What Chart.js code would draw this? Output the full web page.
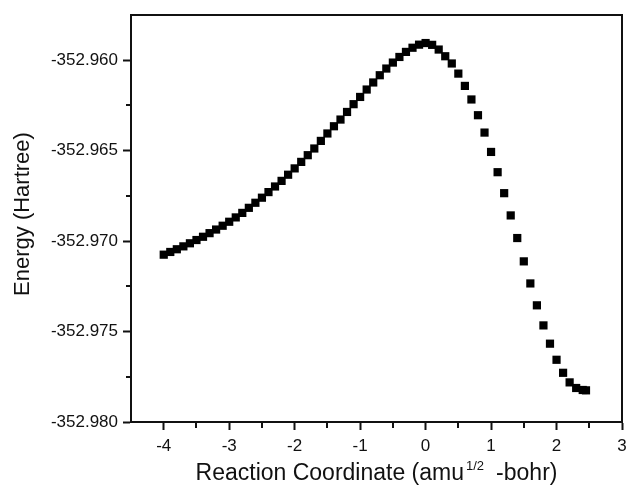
<!DOCTYPE html>
<html>
<head>
<meta charset="utf-8">
<script src="https://cdn.jsdelivr.net/npm/chart.js@4.4.1/dist/chart.umd.min.js"></script>
<style>
  html, body { margin: 0; padding: 0; background: #fff; }
  #wrap { width: 629px; height: 488px; }
</style>
</head>
<body>
<div id="wrap"><canvas id="c" width="629" height="488"></canvas></div>
<script>
// ---- data ----
const reactionCoord = [
  -4.0, -3.9, -3.8, -3.7, -3.6, -3.5, -3.4, -3.3, -3.2, -3.1,
  -3.0, -2.9, -2.8, -2.7, -2.6, -2.5, -2.4, -2.3, -2.2, -2.1,
  -2.0, -1.9, -1.8, -1.7, -1.6, -1.5, -1.4, -1.3, -1.2, -1.1,
  -1.0, -0.9, -0.8, -0.7, -0.6, -0.5, -0.4, -0.3, -0.2, -0.1,
   0.0,  0.1,  0.2,  0.3,  0.4,  0.5,  0.6,  0.7,  0.8,  0.9,
   1.0,  1.1,  1.2,  1.3,  1.4,  1.5,  1.6,  1.7,  1.8,  1.9,
   2.0,  2.1,  2.2,  2.3,  2.4,  2.45
];
const energyHartree = [
  -352.97075, -352.97060, -352.97045, -352.97029, -352.97012, -352.96994, -352.96976, -352.96956, -352.96936, -352.96915,
  -352.96893, -352.96869, -352.96844, -352.96816, -352.96788, -352.96760, -352.96729, -352.96698, -352.96667, -352.96633,
  -352.96598, -352.96562, -352.96525, -352.96488, -352.96446, -352.96405, -352.96365, -352.96328, -352.96286, -352.96243,
  -352.96203, -352.96162, -352.96123, -352.96083, -352.96046, -352.96013, -352.95982, -352.95954, -352.95931, -352.95914,
  -352.95905, -352.95915, -352.95941, -352.95978, -352.96018, -352.96074, -352.96142, -352.96217, -352.96304, -352.96400,
  -352.96507, -352.96619, -352.96735, -352.96858, -352.96983, -352.97112, -352.97234, -352.97355, -352.97466, -352.97567,
  -352.97656, -352.97728, -352.97781, -352.97812, -352.97823, -352.97825
];
const yMajorTicks = [-352.980, -352.975, -352.970, -352.965, -352.960];
const yTickLabels = ['-352.980', '-352.975', '-352.970', '-352.965', '-352.960'];
const xMajorTicks = [-4, -3, -2, -1, 0, 1, 2, 3];
const xTickLabels = ['-4', '-3', '-2', '-1', '0', '1', '2', '3'];
const yTitle = 'Energy (Hartree)';
const xTitleParts = ['Reaction Coordinate (amu', '1/2', '-bohr)'];

const yMinorTicks = yMajorTicks.slice(0, -1).map((v, i) => (v + yMajorTicks[i + 1]) / 2).concat([-352.9575]);
const xMinorTicks = xMajorTicks.slice(0, -1).map((v, i) => (v + xMajorTicks[i + 1]) / 2);

const FONT = "'Liberation Sans', Arial, sans-serif";
const INK = '#111';

const framePlugin = {
  id: 'frame',
  afterDraw(chart) {
    const ctx = chart.ctx;
    const a = chart.chartArea;
    const xs = chart.scales.x, ys = chart.scales.y;
    ctx.save();
    ctx.strokeStyle = INK;
    ctx.lineWidth = 2;
    ctx.beginPath();
    ctx.moveTo(a.left, a.top); ctx.lineTo(a.right, a.top); ctx.lineTo(a.right, a.bottom);
    ctx.stroke();
    // minor ticks
    ctx.beginPath();
    yMinorTicks.forEach(v => {
      const py = Math.round(ys.getPixelForValue(v));
      if (py < a.top + 2) return;
      ctx.moveTo(a.left, py); ctx.lineTo(a.left - 5, py);
    });
    xMinorTicks.forEach(v => {
      const px = Math.round(xs.getPixelForValue(v));
      ctx.moveTo(px, a.bottom); ctx.lineTo(px, a.bottom + 6);
    });
    ctx.stroke();
    // y title
    ctx.fillStyle = INK;
    ctx.font = '22px ' + FONT;
    ctx.textAlign = 'center';
    ctx.textBaseline = 'middle';
    ctx.save();
    ctx.translate(23, 214);
    ctx.rotate(-Math.PI / 2);
    ctx.fillText(yTitle, 0, 0);
    ctx.restore();
    // x title with superscript
    const big = '23px ' + FONT, small = '13px ' + FONT;
    const gapA = 2, gapB = 12;
    ctx.font = big; const w1 = ctx.measureText(xTitleParts[0]).width;
    ctx.font = small; const w2 = ctx.measureText(xTitleParts[1]).width;
    ctx.font = big; const w3 = ctx.measureText(xTitleParts[2]).width;
    const total = w1 + gapA + w2 + gapB + w3;
    let x0 = (a.left + a.right) / 2 - total / 2;
    const base = 480;
    ctx.textAlign = 'left';
    ctx.textBaseline = 'alphabetic';
    ctx.font = big; ctx.fillText(xTitleParts[0], x0, base);
    ctx.font = small; ctx.fillText(xTitleParts[1], x0 + w1 + gapA, base - 10);
    ctx.font = big; ctx.fillText(xTitleParts[2], x0 + w1 + gapA + w2 + gapB, base);
    ctx.restore();
  }
};

new Chart(document.getElementById('c'), {
  type: 'scatter',
  data: {
    datasets: [{
      data: reactionCoord.map((x, i) => ({ x: x, y: energyHartree[i] })),
      pointStyle: 'rect',
      pointRadius: 5.8,
      pointBorderWidth: 0,
      backgroundColor: '#000',
      borderColor: '#000',
      showLine: false
    }]
  },
  options: {
    responsive: false,
    animation: false,
    devicePixelRatio: 1,
    layout: { padding: { left: 0, right: 7, top: 15, bottom: 0 } },
    plugins: { legend: { display: false }, tooltip: { enabled: false } },
    scales: {
      x: {
        type: 'linear',
        min: -4.5, max: 3,
        afterBuildTicks(s) { s.ticks = xMajorTicks.map(v => ({ value: v })); },
        afterFit(s) { s.height = 66; s.paddingRight = 0; s.paddingLeft = 0; },
        grid: { display: true, drawOnChartArea: false, drawTicks: true, tickLength: 8, tickWidth: 2, tickColor: INK },
        border: { display: true, color: INK, width: 2 },
        ticks: {
          color: INK, font: { family: FONT, size: 17 }, padding: 6,
          maxRotation: 0, autoSkip: false,
          callback(v) { const i = xMajorTicks.findIndex(t => Math.abs(t - v) < 1e-9); return i >= 0 ? xTickLabels[i] : ''; }
        }
      },
      y: {
        type: 'linear',
        min: -352.980, max: -352.9575,
        afterBuildTicks(s) { s.ticks = yMajorTicks.map(v => ({ value: v })); },
        afterFit(s) { s.width = 131; s.paddingTop = 0; s.paddingBottom = 0; },
        grid: { display: true, drawOnChartArea: false, drawTicks: true, tickLength: 8, tickWidth: 2, tickColor: INK },
        border: { display: true, color: INK, width: 2 },
        ticks: {
          color: INK, font: { family: FONT, size: 17 }, padding: 5,
          autoSkip: false,
          callback(v) { const i = yMajorTicks.findIndex(t => Math.abs(t - v) < 1e-9); return i >= 0 ? yTickLabels[i] : ''; }
        }
      }
    }
  },
  plugins: [framePlugin]
});
</script>
</body>
</html>
